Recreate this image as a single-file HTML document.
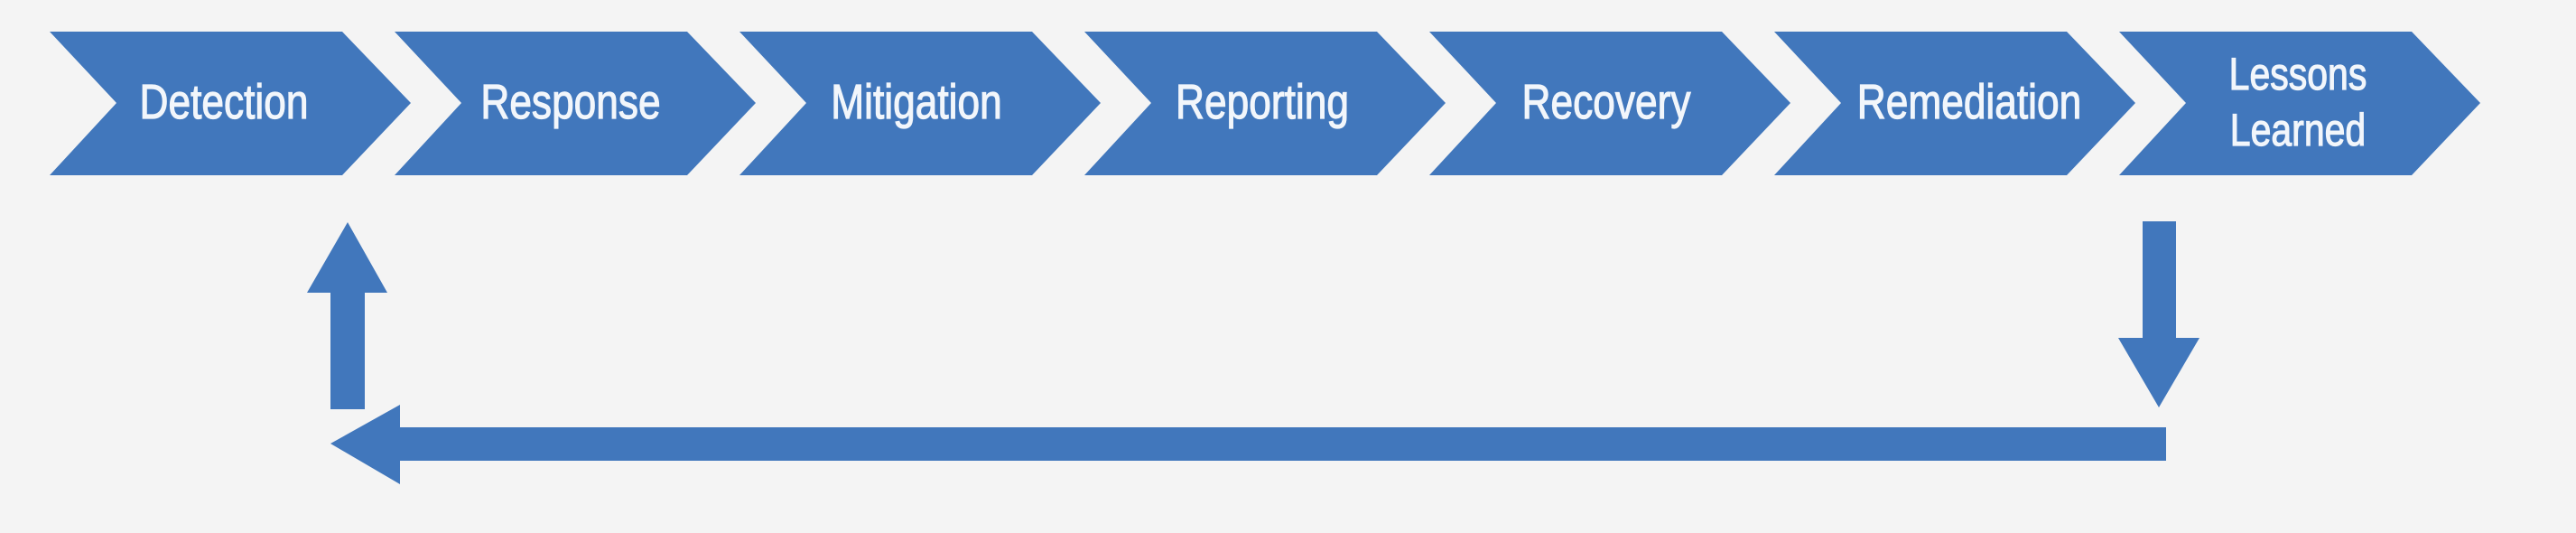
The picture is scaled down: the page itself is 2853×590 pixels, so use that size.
<!DOCTYPE html>
<html><head><meta charset="utf-8"><style>
html,body{margin:0;padding:0;background:#f4f4f4;}
svg{display:block}
text{font-family:"Liberation Sans",Arial,sans-serif;fill:#f2f6fb;stroke:#f2f6fb;stroke-width:1.2;text-anchor:middle}
</style></head><body>
<svg width="2853" height="590" viewBox="0 0 2853 590" xmlns="http://www.w3.org/2000/svg">
<rect width="2853" height="590" fill="#f4f4f4"/>
<g fill="#4177bc">
<polygon points="55,35 379,35 455,114 379,194 55,194 129,114"/>
<polygon points="437,35 761,35 837,114 761,194 437,194 511,114"/>
<polygon points="819,35 1143,35 1219,114 1143,194 819,194 893,114"/>
<polygon points="1201,35 1525,35 1601,114 1525,194 1201,194 1275,114"/>
<polygon points="1583,35 1907,35 1983,114 1907,194 1583,194 1657,114"/>
<polygon points="1965,35 2289,35 2365,114 2289,194 1965,194 2039,114"/>
<polygon points="2347,35 2671,35 2747,114 2671,194 2347,194 2421,114"/>
<polygon points="385,246 429,324 404,324 404,453 366,453 366,324 340,324"/>
<polygon points="366,491 443,448 443,473 2399,473 2399,510 443,510 443,536"/>
<polygon points="2373,245 2410,245 2410,374 2436,374 2391,451 2346,374 2373,374"/>
</g>
<g font-size="54">
<text transform="translate(248,131) scale(0.82,1)">Detection</text>
<text transform="translate(632,131) scale(0.82,1)">Response</text>
<text transform="translate(1015,131) scale(0.82,1)">Mitigation</text>
<text transform="translate(1398,131) scale(0.82,1)">Reporting</text>
<text transform="translate(1779,131) scale(0.82,1)">Recovery</text>
<text transform="translate(2181,131) scale(0.82,1)">Remediation</text>
<text transform="translate(2545,99) scale(0.82,1)" font-size="50">Lessons</text>
<text transform="translate(2545,161) scale(0.82,1)" font-size="50">Learned</text>
</g>
</svg>
</body></html>
